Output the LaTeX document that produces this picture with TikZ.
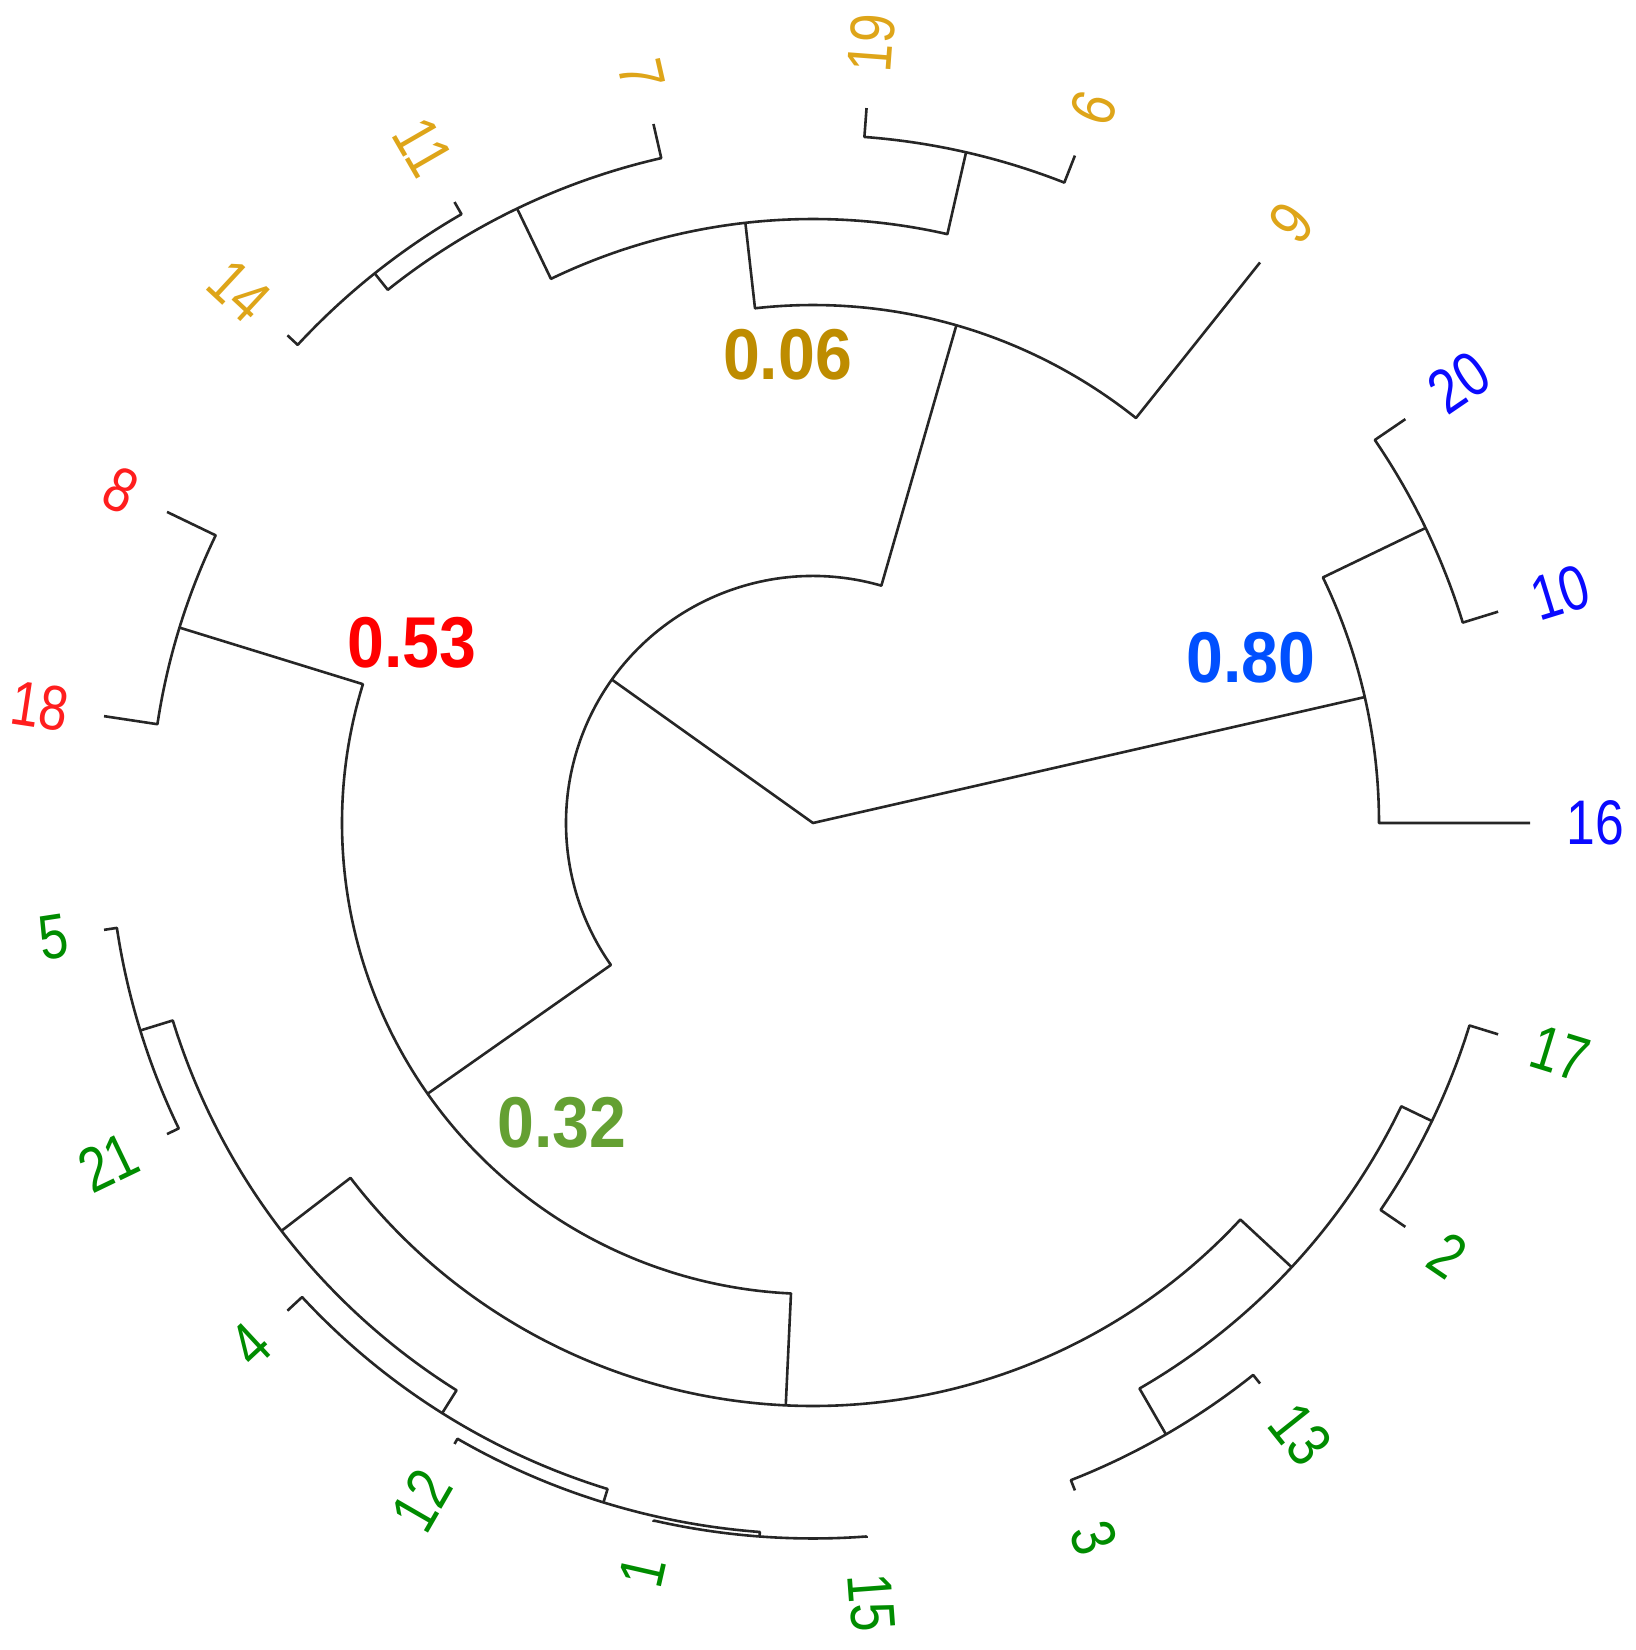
\documentclass[tikz,border=0pt]{standalone}
\usepackage{graphicx}
\usepackage{fontspec}
\setmainfont{Liberation Sans}
\definecolor{leafgold}{RGB}{222,165,25}
\definecolor{darkgold}{RGB}{190,140,0}
\definecolor{leafred}{RGB}{255,30,30}
\definecolor{leafblue}{RGB}{10,10,255}
\definecolor{leafgreen}{RGB}{0,140,0}
\definecolor{supblue}{RGB}{0,80,255}
\definecolor{supgreen}{RGB}{100,160,50}
\newcommand\clade[5]{%
  \draw[tree] (#4) -- (#2:#1pt) arc[start angle=#2, end angle=#3, radius=#1pt] -- (#5);}
\newcommand\lbl[1]{\scalebox{0.82}[1]{#1}}
\newcommand\slbl[1]{\scalebox{0.92}[1]{#1}}
\begin{document}
\begin{tikzpicture}[
  tree/.style={draw=black!85, line width=1.3pt, line join=round},
  leaf/.style={inner sep=0pt, font=\fontsize{31.5}{36}\selectfont},
  support/.style={inner sep=0pt, font=\fontsize{36}{40}\selectfont\bfseries}]
\useasboundingbox (-406.5pt,-413.5pt) rectangle (411pt,411.5pt);
% root and internal nodes
\coordinate (root) at (0,0);
\coordinate (nA)    at (144.5089:123.5pt);
\coordinate (nB)    at (12.8571:283pt);
\coordinate (nB2)   at (25.7143:340pt);
\coordinate (nY)    at (73.9286:259pt);
\coordinate (nY2)   at (96.4286:302pt);
\coordinate (nN196) at (77.1429:344pt);
\coordinate (nN7)   at (115.7143:341pt);
\coordinate (nN1114) at (128.5714:351.5pt);
\coordinate (nG)    at (215.0893:235.5pt);
\coordinate (nRed)  at (162.8571:331.5pt);
\coordinate (nGr)   at (267.3214:291.5pt);
\coordinate (nGL)   at (217.5:335pt);
\coordinate (nN521) at (197.1429:352pt);
\coordinate (nN4X)  at (237.8571:348.5pt);
\coordinate (nX)    at (252.8571:355.5pt);
\coordinate (nN115) at (265.7143:357.75pt);
\coordinate (nGR)   at (317.1429:326.5pt);
\coordinate (nN313) at (300:353pt);
\coordinate (nN217) at (334.2857:343.5pt);
% leaves
\coordinate (l16) at (0:358.5pt);
\coordinate (l10) at (17.1429:358.5pt);
\coordinate (l20) at (34.2857:358.5pt);
\coordinate (l9)  at (51.4286:358.5pt);
\coordinate (l6)  at (68.5714:358.5pt);
\coordinate (l19) at (85.7143:358.5pt);
\coordinate (l7)  at (102.8571:358.5pt);
\coordinate (l11) at (120:358.5pt);
\coordinate (l14) at (137.1429:358.5pt);
\coordinate (l8)  at (154.2857:358.5pt);
\coordinate (l18) at (171.4286:358.5pt);
\coordinate (l5)  at (188.5714:358.5pt);
\coordinate (l21) at (205.7143:358.5pt);
\coordinate (l4)  at (222.8571:358.5pt);
\coordinate (l12) at (240:358.5pt);
\coordinate (l1)  at (257.1429:358.5pt);
\coordinate (l15) at (274.2857:358.5pt);
\coordinate (l3)  at (291.4286:358.5pt);
\coordinate (l13) at (308.5714:358.5pt);
\coordinate (l2)  at (325.7143:358.5pt);
\coordinate (l17) at (342.8571:358.5pt);
% branches
\draw[tree] (nA) -- (root) -- (nB);
\clade{123.5}{73.9286}{215.0893}{nY}{nG}
\clade{283}{0}{25.7143}{l16}{nB2}
\clade{340}{17.1429}{34.2857}{l10}{l20}
\clade{259}{51.4286}{96.4286}{l9}{nY2}
\clade{302}{77.1429}{115.7143}{nN196}{nN7}
\clade{344}{68.5714}{85.7143}{l6}{l19}
\clade{341}{102.8571}{128.5714}{l7}{nN1114}
\clade{351.5}{120}{137.1429}{l11}{l14}
\clade{235.5}{162.8571}{267.3214}{nRed}{nGr}
\clade{331.5}{154.2857}{171.4286}{l8}{l18}
\clade{291.5}{217.5}{317.1429}{nGL}{nGR}
\clade{335}{197.1429}{237.8571}{nN521}{nN4X}
\clade{352}{188.5714}{205.7143}{l5}{l21}
\clade{348.5}{222.8571}{252.8571}{l4}{nX}
\clade{355.5}{240}{265.7143}{l12}{nN115}
\clade{357.75}{257.1429}{274.2857}{l1}{l15}
\clade{326.5}{300}{334.2857}{nN313}{nN217}
\clade{353}{291.4286}{308.5714}{l3}{l13}
\clade{343.5}{325.7143}{342.8571}{l2}{l17}
% leaf labels
\node[leaf, text=leafblue, anchor=west, rotate=0] (t16) at (0:376.5pt) {\lbl{16}};
\node[leaf, text=leafblue, anchor=west, rotate=17.1429] (t10) at (17.1429:376.5pt) {\lbl{10}};
\node[leaf, text=leafblue, anchor=west, rotate=34.2857] (t20) at (34.2857:376.5pt) {\lbl{20}};
\node[leaf, text=leafgold, anchor=west, rotate=51.4286] (t9) at (51.4286:376.5pt) {\lbl{9}};
\node[leaf, text=leafgold, anchor=west, rotate=68.5714] (t6) at (68.5714:376.5pt) {\lbl{6}};
\node[leaf, text=leafgold, anchor=west, rotate=85.7143] (t19) at (85.7143:376.5pt) {\lbl{19}};
\node[leaf, text=leafgold, anchor=east, rotate=-77.1429] (t7) at (102.8571:376.5pt) {\lbl{7}};
\node[leaf, text=leafgold, anchor=east, rotate=-60] (t11) at (120:376.5pt) {\lbl{11}};
\node[leaf, text=leafgold, anchor=east, rotate=-42.8571] (t14) at (137.1429:376.5pt) {\lbl{14}};
\node[leaf, text=leafred, anchor=east, rotate=-25.7143] (t8) at (154.2857:376.5pt) {\lbl{8}};
\node[leaf, text=leafred, anchor=east, rotate=-8.5714] (t18) at (171.4286:376.5pt) {\lbl{18}};
\node[leaf, text=leafgreen, anchor=east, rotate=8.5714] (t5) at (188.5714:376.5pt) {\lbl{5}};
\node[leaf, text=leafgreen, anchor=east, rotate=25.7143] (t21) at (205.7143:376.5pt) {\lbl{21}};
\node[leaf, text=leafgreen, anchor=east, rotate=42.8571] (t4) at (222.8571:376.5pt) {\lbl{4}};
\node[leaf, text=leafgreen, anchor=east, rotate=60] (t12) at (240:376.5pt) {\lbl{12}};
\node[leaf, text=leafgreen, anchor=east, rotate=77.1429] (t1) at (257.1429:376.5pt) {\lbl{1}};
\node[leaf, text=leafgreen, anchor=west, rotate=-85.7143] (t15) at (274.2857:376.5pt) {\lbl{15}};
\node[leaf, text=leafgreen, anchor=west, rotate=-68.5714] (t3) at (291.4286:376.5pt) {\lbl{3}};
\node[leaf, text=leafgreen, anchor=west, rotate=-51.4286] (t13) at (308.5714:376.5pt) {\lbl{13}};
\node[leaf, text=leafgreen, anchor=west, rotate=-34.2857] (t2) at (325.7143:376.5pt) {\lbl{2}};
\node[leaf, text=leafgreen, anchor=west, rotate=-17.1429] (t17) at (342.8571:376.5pt) {\lbl{17}};
% cluster support values
\node[support, text=darkgold] (s06) at (-12.75pt,234pt) {\slbl{0.06}};
\node[support, text=red] (s53) at (-200.65pt,90.25pt) {\slbl{0.53}};
\node[support, text=supblue] (s80) at (218.9pt,82.75pt) {\slbl{0.80}};
\node[support, text=supgreen] (s32) at (-125.65pt,-149.75pt) {\slbl{0.32}};
\end{tikzpicture}
\end{document}
